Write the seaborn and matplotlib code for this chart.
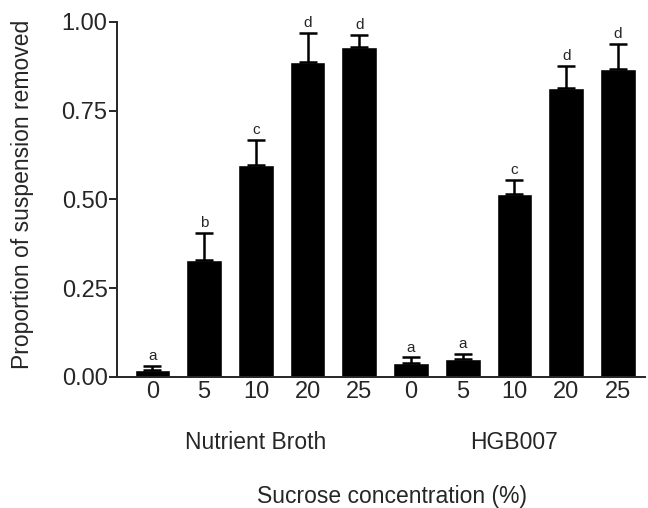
import seaborn as sns
import matplotlib.pyplot as plt
import numpy as np
import pandas as pd

# bar data
media = ["Nutrient Broth"] * 5 + ["HGB007"] * 5
sucrose = ["0", "5", "10", "20", "25", "0", "5", "10", "20", "25"]
removed = [0.02, 0.33, 0.597, 0.887, 0.93, 0.04, 0.05, 0.515, 0.815, 0.868]
err_top = [0.03, 0.405, 0.668, 0.968, 0.964, 0.055, 0.065, 0.554, 0.877, 0.939]
letters = ["a", "b", "c", "d", "d", "a", "a", "c", "d", "d"]

df = pd.DataFrame({"pos": range(10), "medium": media,
                   "sucrose": sucrose, "removed": removed})

sns.set_style("ticks")
plt.rcParams['font.family'] = ['Liberation Sans', 'DejaVu Sans']

fig = plt.figure(figsize=(6.48, 5.08), dpi=100)
ax = fig.add_axes([0.181, 0.258, 0.814, 0.699])

sns.barplot(data=df, x="pos", y="removed", color="black", saturation=1,
            width=0.69, errorbar=None, ax=ax)

yerr = np.array(err_top) - np.array(removed)
ax.errorbar(df["pos"], removed, yerr=[np.zeros(10), yerr], fmt="none",
            ecolor="black", elinewidth=1.8, capsize=6.5, capthick=1.8)

for p, top, lab in zip(df["pos"], err_top, letters):
    ax.text(p, top + 0.008, lab, ha="center", va="bottom", fontsize=11)

ax.set_ylim(0, 1.0)
ax.set_xlim(-0.68, 9.52)
ax.set_yticks([0, 0.25, 0.5, 0.75, 1.0])
ax.set_yticklabels(["0.00", "0.25", "0.50", "0.75", "1.00"], fontsize=17)
ax.set_xticks(df["pos"])
ax.set_xticklabels(sucrose, fontsize=17)
ax.tick_params(axis="x", length=0, pad=3)
ax.tick_params(axis="y", length=6, width=1.4, pad=1)
for s in ["left", "bottom"]:
    ax.spines[s].set_linewidth(1.4)
sns.despine(ax=ax)

ax.set_xlabel("")
ax.set_ylabel("")
fig.text(23 / 648, 0.617, "Proportion of suspension removed", rotation=90,
         ha="center", va="center", fontsize=16.5)

# group labels under the ticks
ax.text(2, -0.185, "Nutrient Broth", ha="center", va="center", fontsize=16.5)
ax.text(7, -0.185, "HGB007", ha="center", va="center", fontsize=16.5)
fig.text(0.605, 0.022, "Sucrose concentration (%)", ha="center",
         va="center", fontsize=16.5)

fig.savefig("out.png", dpi=100)
